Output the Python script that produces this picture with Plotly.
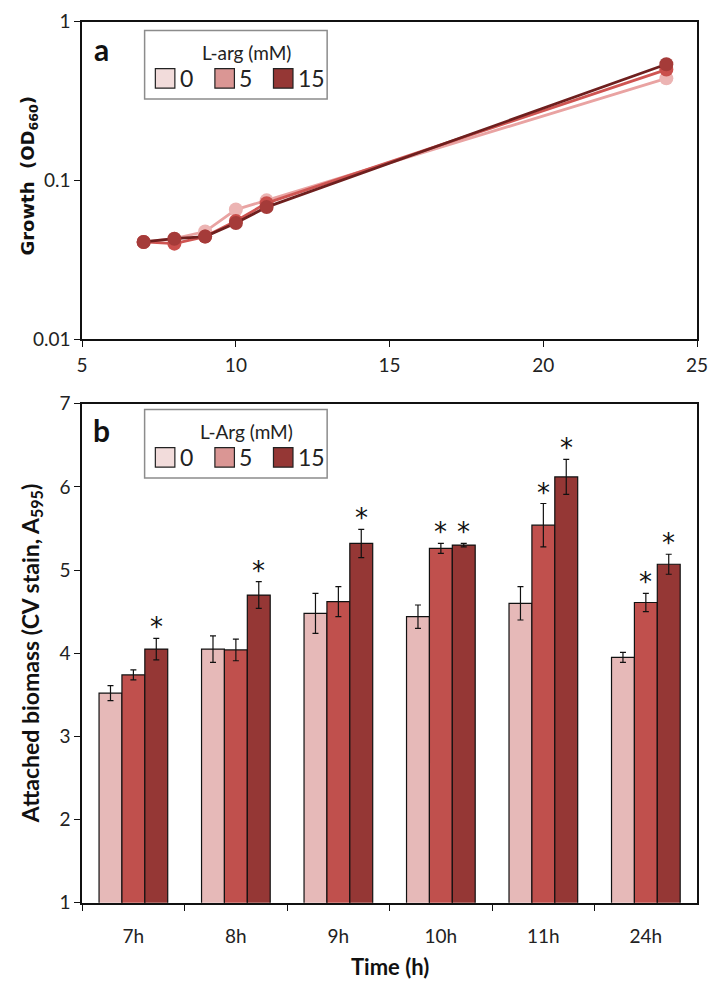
import plotly.graph_objects as go

W, H = 712, 991

# ---------------- data ----------------
conc_labels = ["0", "5", "15"]

# panel a: growth (OD660) vs time
time_h = [7, 8, 9, 10, 11, 24]
od_0 = [0.041, 0.043, 0.0477, 0.0656, 0.075, 0.44]
od_5 = [0.041, 0.040, 0.0443, 0.0556, 0.072, 0.50]
od_15 = [0.041, 0.043, 0.0443, 0.054, 0.068, 0.54]

# panel b: attached biomass (A595)
time_cats = ["7h", "8h", "9h", "10h", "11h", "24h"]
bio_0 = [3.52, 4.05, 4.48, 4.44, 4.60, 3.95]
bio_5 = [3.74, 4.04, 4.62, 5.26, 5.54, 4.61]
bio_15 = [4.05, 4.70, 5.32, 5.30, 6.12, 5.07]
err_0 = [0.09, 0.16, 0.24, 0.14, 0.20, 0.06]
err_5 = [0.06, 0.13, 0.18, 0.06, 0.26, 0.11]
err_15 = [0.13, 0.16, 0.17, 0.02, 0.21, 0.12]
sig_0 = [False, False, False, False, False, False]
sig_5 = [False, False, False, True, True, True]
sig_15 = [True, True, True, True, True, True]

# ---------------- style ----------------
line_cols = ["#E9A3A2", "#CF5552", "#6E1F1E"]
marker_cols = ["#ECB4B3", "#C94F4C", "#A53B39"]
bar_cols = ["#E6B9B8", "#C0504D", "#953735"]
legend_swatch = ["#F2DCDB", "#DA9694", "#953735"]

TICK_FONT = dict(family="Lato", size=19, color="#222")
BARGAP = 0.33


def px_x(p):
    return p / W


def px_y(p):
    return 1 - p / H


fig = go.Figure()

# panel a
for vals, lc, mc, name in zip([od_0, od_5, od_15], line_cols, marker_cols, conc_labels):
    fig.add_trace(go.Scatter(
        x=time_h, y=vals, mode="lines+markers", name=name,
        line=dict(color=lc, width=2.8),
        marker=dict(color=mc, size=14),
        xaxis="x", yaxis="y", showlegend=False))

# panel b
for vals, errs, col, name in zip([bio_0, bio_5, bio_15], [err_0, err_5, err_15], bar_cols, conc_labels):
    fig.add_trace(go.Bar(
        x=time_cats, y=vals, name=name,
        marker=dict(color=col, line=dict(color="#111", width=1.2)),
        error_y=dict(type="data", array=errs, color="#111", thickness=1.2, width=3),
        xaxis="x2", yaxis="y2", showlegend=False))

annotations = []
shapes = []

# asterisks
bar_w = (1 - BARGAP) / 3
for k, (vals, errs, sig) in enumerate(zip([bio_0, bio_5, bio_15], [err_0, err_5, err_15], [sig_0, sig_5, sig_15])):
    for i, (v, e, s) in enumerate(zip(vals, errs, sig)):
        if s:
            annotations.append(dict(
                x=i + (k - 1) * bar_w, y=v + e, xref="x2", yref="y2",
                text="*", showarrow=False, xanchor="center", yanchor="bottom", yshift=-6,
                font=dict(family="DejaVu Sans", size=26, color="#111")))


def pann(x, y, text, font, **kw):
    d = dict(x=px_x(x), y=px_y(y), xref="paper", yref="paper", text=text,
             showarrow=False, xanchor="center", yanchor="middle", font=font)
    d.update(kw)
    annotations.append(d)


# axis titles
pann(24, 167, "<b>Growth  (OD<sub>660</sub>)</b>",
     dict(family="DejaVu Sans", size=18, color="#111"), textangle=-90)
pann(26, 657, "<b>Attached biomass (CV stain, A<sub>595</sub>)</b>",
     dict(family="Lato", size=23, color="#111"), textangle=-90)
pann(393, 977, "<b>Time (h)</b>", dict(family="Lato", size=22, color="#111"))
# panel letters
pann(98, 38, "<b>a</b>", dict(family="Lato", size=30, color="#111"))
pann(98, 428, "<b>b</b>", dict(family="Lato", size=30, color="#111"))

# custom legends
for top, title in [(19, "L-arg (mM)"), (407, "L-Arg (mM)")]:
    shapes.append(dict(type="rect", xref="paper", yref="paper",
                       x0=px_x(142), x1=px_x(329), y0=px_y(top), y1=px_y(top + 70),
                       line=dict(color="#8c8c8c", width=1.5), fillcolor="white"))
    pann(246, top + 22, title, dict(family="Lato", size=19, color="#222"))
    sw_x = [153, 214, 274]
    for j, (lab, col) in enumerate(zip(conc_labels, legend_swatch)):
        x0 = sw_x[j]
        shapes.append(dict(type="rect", xref="paper", yref="paper",
                           x0=px_x(x0), x1=px_x(x0 + 20), y0=px_y(top + 39), y1=px_y(top + 59),
                           line=dict(color="#222", width=1.2), fillcolor=col))
        pann(x0 + 23, top + 49, lab, dict(family="Lato", size=23, color="#222"), xanchor="left")

axis_common = dict(showline=True, linecolor="#111", linewidth=1.5, mirror=True,
                   ticks="outside", ticklen=6, tickcolor="#111", tickwidth=1.2,
                   showgrid=False, zeroline=False, tickfont=TICK_FONT)

fig.update_layout(
    width=W, height=H,
    margin=dict(l=0, r=0, t=0, b=0),
    paper_bgcolor="white", plot_bgcolor="white",
    barmode="group", bargap=BARGAP, bargroupgap=0,
    xaxis=dict(domain=[px_x(78), px_x(708)], anchor="y", range=[5, 25], dtick=5,
               ticklabelstandoff=2, ticklabeloverflow="allow", **axis_common),
    yaxis=dict(domain=[px_y(335), px_y(10)], anchor="x", type="log", range=[-2, 0],
               tickvals=[0.01, 0.1, 1], ticktext=["0.01", "0.1", "1"],
               ticklabeloverflow="allow", **axis_common),
    xaxis2=dict(domain=[px_x(78), px_x(708)], anchor="y2", type="category",
                range=[-0.5, 5.5], tickson="boundaries", ticklabelstandoff=16, **axis_common),
    yaxis2=dict(domain=[px_y(912), px_y(401)], anchor="x2", range=[1, 7], dtick=1,
                **axis_common),
    annotations=annotations,
    shapes=shapes,
)

fig.write_html("out.html", config={"displayModeBar": False},
               post_script="document.body.style.margin='0';document.body.style.overflow='hidden';")
